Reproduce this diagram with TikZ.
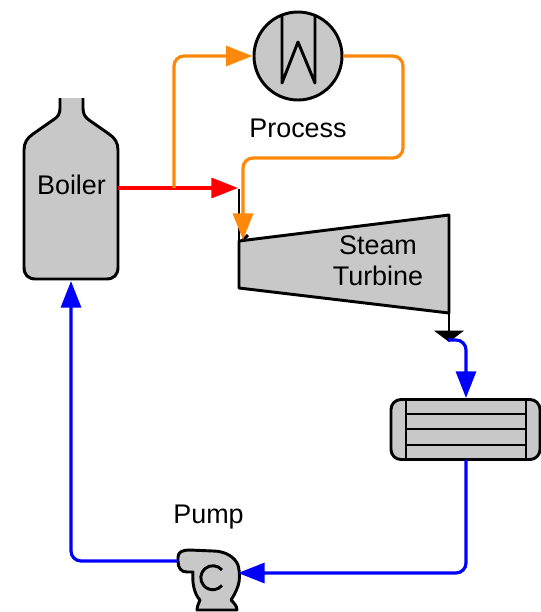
\documentclass[tikz,border=0pt]{standalone}
\usepackage{fontspec}
\setmainfont{Liberation Sans}
\usepackage{xcolor}
\usetikzlibrary{arrows.meta,positioning,calc}
\definecolor{rkgrey}{RGB}{200,200,200}
\definecolor{rkorange}{RGB}{255,136,10}
\tikzset{
  rkshape/.style={draw=black, fill=rkgrey, line width=2.2pt, line join=round},
  rkline/.style={draw=black, line width=2.2pt, line join=round},
  rklabel/.style={inner sep=0pt, font=\fontsize{20.2}{23.5}\selectfont, align=center},
  rkflow/.style={line width=2.4pt, rounded corners=7.5pt},
  rktip/.style={-{Triangle[length=20pt, width=15pt, fill=#1]}, draw=#1},
}

\begin{document}
\begin{tikzpicture}[x=0.75pt, y=-0.75pt]
  \useasboundingbox (0,0) rectangle (541,612);

  \draw[rkshape] (60,98) -- (60,108) .. controls (60,114) and (58,117) .. (53,120) -- (33,134)
    .. controls (27,138) and (24,143) .. (24,150) -- (24,267) .. controls (24,275) and (28,279) .. (36,279)
    -- (106,279) .. controls (114,279) and (118,275) .. (118,267) -- (118,150)
    .. controls (118,143) and (115,138) .. (109,134) -- (89,120) .. controls (85,117) and (83,114) .. (83,108) -- (83,98);
  \node[rklabel, minimum width=70.5pt, minimum height=135.75pt] (boiler) at (71,188) {};
  \node[rklabel] (boilertext) at (71.5,185) {Boiler};

  \node[rkshape, circle, inner sep=0pt, minimum size=66pt] (process) at (298,56) {};
  \draw[rkline] (282,15) -- (282,83) -- (298,42) -- (315,83) -- (315,15);
  \node[rklabel] (processtext) at (298,128.5) {Process};

  \draw[rkshape] (239,241) -- (449,215) -- (449,313) -- (239,288) -- cycle;
  \node[rklabel] (turbine) at (378,261) {Steam\\Turbine};
  \coordinate (turbinein) at (238,189);
  \coordinate (turbinetop) at (239,241);
  \coordinate (turbineorange) at (243,240);
  \coordinate (turbinetick) at (248,235);
  \coordinate (turbineout) at (449,313);
  \coordinate (exhaust) at (449,342);
  \draw[rkline] (239,189) -- (turbinetop);
  \draw[rkline] (turbineorange) -- (turbinetick);
  \draw[rkline, -{Triangle[length=8.5pt, width=22pt]}] (turbineout) -- (exhaust);

  \node[rkshape, rectangle, rounded corners=7.5pt, inner sep=0pt, minimum width=111.75pt, minimum height=45pt] (condenser) at (465.5,429.5) {};
  \draw[rkline] (406,399) -- (406,460);
  \draw[rkline] (526,399) -- (526,460);
  \foreach \rowy in {414,429,445}
    \draw[rkline] (406,\rowy) -- (526,\rowy);

  \draw[rkshape] (189,550) -- (213,551) .. controls (225,551) and (235,557) .. (238,565)
    .. controls (240,573) and (240,580) .. (238,586) .. controls (236,592) and (233,597) .. (231,600)
    .. controls (234,603) and (237,606) .. (237,610) -- (197,610) .. controls (197,606) and (199,603) .. (200,600)
    .. controls (194,594) and (192,582) .. (193,572) -- (187,572) .. controls (181,572) and (178,568) .. (178,561)
    -- (178,557) .. controls (178,552) and (183,550) .. (189,550) -- cycle;
  \draw[rkline] (222,570) arc[start angle=-40, end angle=-320, radius=12];
  \coordinate (pumpin) at (238,573);
  \coordinate (pumpout) at (178,561);
  \node[rklabel] (pumptext) at (208.5,517) {Pump};

  \coordinate (tee) at (174,188);
  \coordinate (reheat) at (448,340);
  \coordinate (boilerin) at (71,281);
  \coordinate (condenserout) at (466,460);
  \coordinate (condenserin) at (466,398);

  \draw[rkflow, draw=red] (boiler.east) -- (tee);
  \draw[rkflow, rktip=red] (tee) -- (turbinein |- tee);
  \draw[rkflow, rktip=rkorange] (tee) |- (process.west);
  \draw[rkflow, rktip=rkorange] (process.east) -- (403,56) -- (403,158) -- (243,158) -- (turbineorange);
  \draw[rkflow, rktip=blue] (reheat) -- (466,340) -- (condenserin);
  \draw[rkflow, rktip=blue] (condenserout) -- (466,573) -- (pumpin);
  \draw[rkflow, rktip=blue] (pumpout) -- (71,561) -- (boilerin);
\end{tikzpicture}
\end{document}
